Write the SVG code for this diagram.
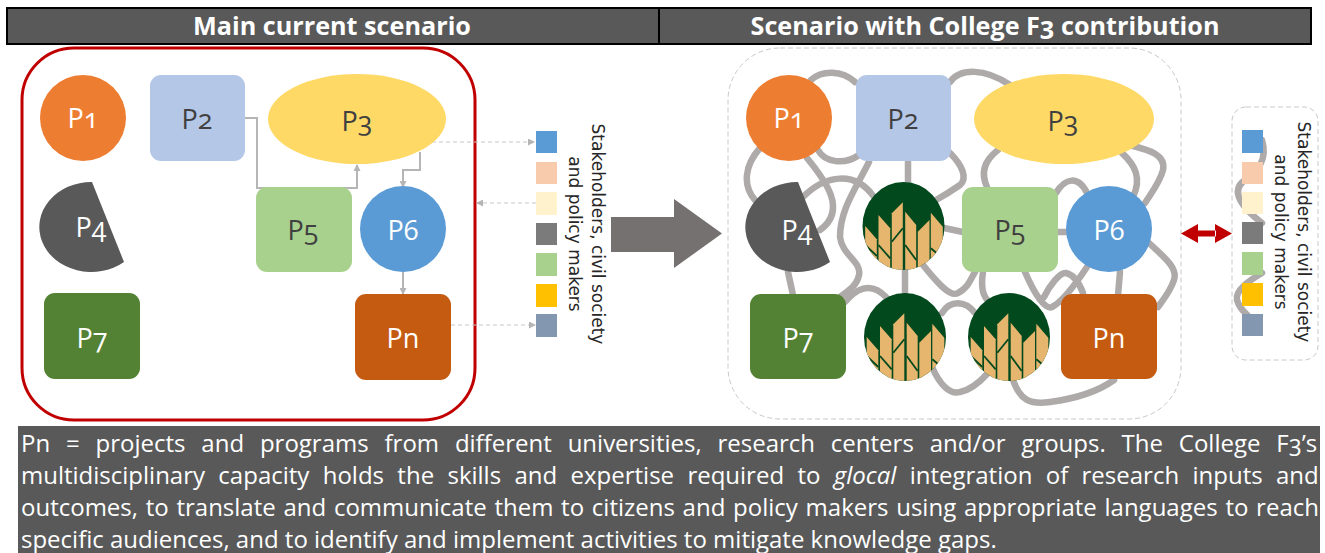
<svg xmlns="http://www.w3.org/2000/svg" xmlns:xlink="http://www.w3.org/1999/xlink" width="1325" height="553" viewBox="0 0 1325 553">
<style>
text{font-family:"Open Sans","Liberation Sans",sans-serif;font-variant-numeric:oldstyle-nums}
.lab{font-size:27px;text-anchor:middle;fill:#fff}
.dk{fill:#404040}
.hd{font-size:25.200px;font-weight:700;fill:#fff;text-anchor:middle}
.body{font-size:24px;fill:#fff}
.st{font-family:"DejaVu Sans",sans-serif;font-size:17px;fill:#262626;text-anchor:middle}
.flow{fill:none;stroke:#b5b5b5;stroke-width:2}
.dash{fill:none;stroke:#c8c8c8;stroke-width:1.2;stroke-dasharray:4 3}
.mesh path{fill:none;stroke:#aeaaaa;stroke-width:6.500;stroke-linecap:round}
.box{fill:none;stroke:#c8c8c8;stroke-width:1;stroke-dasharray:5 3}
</style>
<defs>
<marker id="ah" markerWidth="7" markerHeight="7" refX="6" refY="3.5" orient="auto" markerUnits="userSpaceOnUse"><path d="M0,0L7,3.5L0,7z" fill="#b5b5b5"/></marker>
<clipPath id="wc"><ellipse cx="0" cy="0" rx="41" ry="44"/></clipPath>
<g id="wheat"><ellipse rx="41" ry="44" fill="#03491e"/><g clip-path="url(#wc)"><g fill="#e6b56e"><path d="M-38.300,0L-26.700,13.300V44H-38.300z"/><path d="M-25,-11L-13.300,2.300V44H-25z"/><path d="M-11.700,-12.700L-.7,-23.700V44H-11.700z"/><path d="M1.700,-14.300L12.700,-1V44H1.700z"/><path d="M14.300,5.700L26,-6V44H14.300z"/><path d="M27.300,-13.300L39.300,.7V44H27.300z"/></g><g fill="none" stroke="#03491e" stroke-width="1.800"><path d="M-25,19L-13.300,32.300"/><path d="M-11.700,15.700L-.7,2.300"/><path d="M1.700,19L12.700,34"/><path d="M27.300,22.300L33.300,27.300"/><path d="M-38.300,19L-26.700,30"/></g></g></g>
</defs>
<g id="headers"><rect x="7" y="8" width="652" height="36" fill="#595959" stroke="#000" stroke-width="2"/><rect x="659" y="8" width="652" height="36" fill="#595959" stroke="#000" stroke-width="2"/><text class="hd" x="332" y="35">Main current scenario</text><text class="hd" x="985" y="35">Scenario with College F3 contribution</text></g>
<g id="left-frame"><rect x="22" y="48" width="453" height="372" rx="52" fill="#fff" stroke="#c00000" stroke-width="3"/></g>
<g id="left-connectors"><path class="flow" marker-end="url(#ah)" d="M245,118H257V188H357V165"/><path class="flow" marker-end="url(#ah)" d="M420,152V170H403V187"/><path class="flow" marker-end="url(#ah)" d="M403,272V294"/><path class="dash" marker-end="url(#ah)" d="M432,142H534"/><path class="dash" marker-end="url(#ah)" d="M536,203H477"/><path class="dash" marker-end="url(#ah)" d="M451,325H535"/></g>
<g id="l-p1"><ellipse cx="83" cy="118" rx="43" ry="43" fill="#ed7d31"/><text class="lab" x="83" y="128">P1</text></g>
<g id="l-p2"><rect x="150" y="75" width="95" height="86" rx="11" fill="#b4c7e7"/><text class="lab dk" x="197" y="129">P2</text></g>
<g id="l-p3"><ellipse cx="357" cy="119" rx="89" ry="45" fill="#ffd966"/><text class="lab dk" x="357" y="131">P3</text></g>
<g id="l-p4"><path d="M92,182L124,262A52,45 0 1 1 92,182z" fill="#595959"/><text class="lab" x="91" y="237">P4</text></g>
<g id="l-p5"><rect x="256" y="187" width="96" height="85" rx="11" fill="#a9d18e"/><text class="lab dk" x="303" y="240">P5</text></g>
<g id="l-p6"><ellipse cx="403" cy="229" rx="43" ry="43" fill="#5b9bd5"/><text class="lab" x="403" y="240">P6</text></g>
<g id="l-p7"><rect x="44" y="293" width="96" height="86" rx="11" fill="#548235"/><text class="lab" x="92" y="348">P7</text></g>
<g id="l-pn"><rect x="355" y="294" width="96" height="86" rx="11" fill="#c55a11"/><text class="lab" x="403" y="348">Pn</text></g>
<g id="l-legend"><rect x="536" y="131" width="21" height="22" fill="#5b9bd5"/><rect x="536" y="162" width="21" height="22" fill="#f8cbad"/><rect x="536" y="192" width="21" height="23" fill="#fff2cc"/><rect x="536" y="223" width="21" height="22" fill="#7b7b7b"/><rect x="536" y="253" width="21" height="23" fill="#a9d18e"/><rect x="536" y="284" width="21" height="23" fill="#ffc000"/><rect x="536" y="314" width="21" height="23" fill="#8497b0"/><text class="st" transform="translate(592,234) rotate(90)">Stakeholders, civil society</text><text class="st" transform="translate(569,234) rotate(90)">and policy makers</text></g>
<g id="big-arrow"><path d="M611,217H674V199L722,233.500L674,268V252H611z" fill="#767171"/></g>
<g id="right-frame"><rect x="728" y="48" width="453" height="371" rx="52" fill="#fff" class="box"/></g>
<g id="mesh" class="mesh">
<path d="M811,80C822,70 842,70 855,82"/>
<path d="M950,82C960,68 985,68 1010,85"/>
<path d="M818,150C825,163 845,165 859,155"/>
<path d="M760,148C745,165 742,185 755,200"/>
<path d="M807,158C825,180 848,210 820,230"/>
<path d="M803,197C825,175 855,170 874,197"/>
<path d="M869,162C855,190 840,210 840,237C842,255 862,262 859,275C857,285 850,290 840,297"/>
<path d="M908,162V183"/>
<path d="M950,153C962,165 968,178 960,185C950,192 945,195 936,200"/>
<path d="M944,228L963,232"/>
<path d="M923,265C935,280 950,298 958,293C968,288 970,280 975,272"/>
<path d="M905,270V293"/>
<path d="M845,302C855,290 870,280 886,297"/>
<path d="M942,313C950,300 965,300 975,313"/>
<path d="M932,367C940,385 950,395 960,392C970,390 980,382 988,373"/>
<path d="M1013,380C1020,400 1030,405 1050,402C1080,398 1100,390 1114,380"/>
<path d="M983,272C981,285 982,297 990,302"/>
<path d="M1025,272C1035,295 1045,310 1052,307C1062,302 1075,285 1087,267"/>
<path d="M1044,297C1050,285 1060,272 1066,273C1075,275 1080,285 1083,293"/>
<path d="M1120,272L1118,295"/>
<path d="M1149,243C1165,258 1178,268 1174,280C1170,292 1163,300 1158,307"/>
<path d="M998,150C985,160 980,172 987,187"/>
<path d="M1122,153C1135,165 1142,178 1133,197"/>
<path d="M1129,145C1150,150 1166,155 1163,170C1160,182 1152,192 1145,203"/>
<path d="M1056,193C1065,178 1078,175 1087,193"/>
<path d="M1058,232H1068"/>
<path d="M788,272L793,295"/>
</g>
<g id="r-p1"><ellipse cx="789" cy="118" rx="43" ry="43" fill="#ed7d31"/><text class="lab" x="789" y="128">P1</text></g>
<g id="r-p2"><rect x="856" y="75" width="95" height="86" rx="11" fill="#b4c7e7"/><text class="lab dk" x="903" y="129">P2</text></g>
<g id="r-p3"><ellipse cx="1064" cy="119" rx="90" ry="45" fill="#ffd966"/><text class="lab dk" x="1063" y="131">P3</text></g>
<g id="r-p4"><path d="M798,182L830,262A52,45 0 1 1 798,182z" fill="#595959"/><text class="lab" x="797" y="240">P4</text></g>
<g id="r-w1"><use xlink:href="#wheat" href="#wheat" x="903.500" y="226"/></g>
<g id="r-p5"><rect x="962" y="187" width="96" height="85" rx="11" fill="#a9d18e"/><text class="lab dk" x="1010" y="240">P5</text></g>
<g id="r-p6"><ellipse cx="1109" cy="229" rx="43" ry="43" fill="#5b9bd5"/><text class="lab" x="1109" y="240">P6</text></g>
<g id="r-p7"><rect x="750" y="294" width="96" height="85" rx="11" fill="#548235"/><text class="lab" x="798" y="348">P7</text></g>
<g id="r-w2"><use xlink:href="#wheat" href="#wheat" x="905" y="337"/></g>
<g id="r-w3"><use xlink:href="#wheat" href="#wheat" x="1009" y="337"/></g>
<g id="r-pn"><rect x="1061" y="294" width="96" height="85" rx="11" fill="#c55a11"/><text class="lab" x="1109" y="348">Pn</text></g>
<g id="r-arrow"><path d="M1181,233.500L1198,224V243z M1232,233.500L1215,224V243z M1197,230.500H1216V236.500H1197z" fill="#c00000"/></g>
<g id="r-legend"><rect x="1232" y="107" width="86" height="253" rx="14" fill="#fff" class="box"/><g class="mesh"><path d="M1262,140C1268,160 1258,170 1245,180C1228,192 1245,210 1262,223"/><path d="M1262,273C1250,280 1235,290 1237,300C1240,310 1245,312 1249,317"/></g><rect x="1242" y="130" width="21" height="23" fill="#5b9bd5"/><rect x="1242" y="162" width="21" height="22" fill="#f8cbad"/><rect x="1242" y="192" width="21" height="22" fill="#fff2cc"/><rect x="1242" y="222" width="21" height="22" fill="#7b7b7b"/><rect x="1242" y="252" width="21" height="23" fill="#a9d18e"/><rect x="1242" y="283" width="21" height="23" fill="#ffc000"/><rect x="1242" y="314" width="21" height="22" fill="#8497b0"/><text class="st" transform="translate(1298,232) rotate(90)">Stakeholders, civil society</text><text class="st" transform="translate(1275,232) rotate(90)">and policy makers</text></g>
<g id="caption"><rect x="18" y="426" width="1302" height="127" fill="#595959"/>
<text class="body" x="21" y="452" word-spacing="9.600">Pn = projects and programs from different universities, research centers and/or groups. The College F3’s</text>
<text class="body" x="21" y="484" word-spacing="7.100">multidisciplinary capacity holds the skills and expertise required to <tspan font-style="italic">glocal</tspan> integration of research inputs and</text>
<text class="body" x="21" y="516" word-spacing="1.500">outcomes, to translate and communicate them to citizens and policy makers using appropriate languages to reach</text>
<text class="body" x="21" y="548">specific audiences, and to identify and implement activities to mitigate knowledge gaps.</text></g>
</svg>
